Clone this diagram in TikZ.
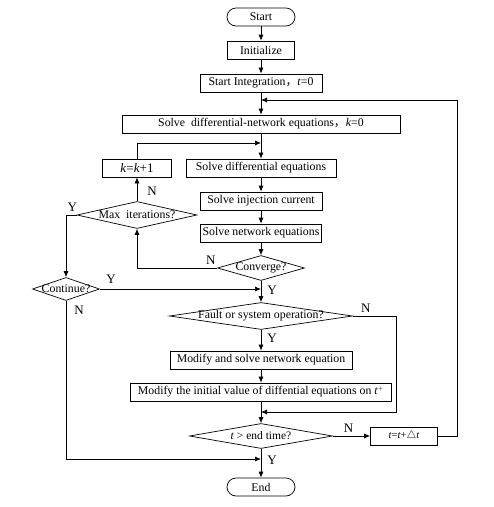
\documentclass[tikz,border=0pt]{standalone}
\usepackage{fontspec}
\setmainfont{Liberation Serif}
\newfontfamily\cjk{Noto Sans CJK SC}
\usetikzlibrary{arrows.meta,shapes.geometric}

\begin{document}
\begin{tikzpicture}[x=1pt,y=-1pt,
  proc/.style={draw, minimum height=18pt, inner sep=2pt},
  term/.style={draw, rounded corners=9pt, minimum width=68pt, minimum height=18pt},
  dec/.style={diamond, draw, inner sep=0pt},
  flow/.style={-{Latex[length=6pt,width=5pt]}},
  every node/.style={font=\fontsize{11.8}{13}\selectfont},
  yn/.style={font=\fontsize{13}{14}\selectfont, inner sep=1pt},
  line width=0.7pt
]
\useasboundingbox (0,0) rectangle (494,507);

% main column
\node[term] (start) at (261,17) {Start};
\node[proc, minimum width=67pt] (init) at (261,50) {Initialize};
\node[proc, minimum width=122pt] (sint) at (261,83) {Start Integration{\cjk ，}\textit{t}=0};
\node[proc, minimum width=278pt] (snet) at (261,124) {Solve\ \ differential-network equations{\cjk ，}\textit{k}=0};
\node[proc, minimum width=150pt] (sdiff) at (261,168) {Solve differential equations};
\node[proc, minimum width=69pt, font=\fontsize{13}{14}\selectfont] (kinc) at (137,168) {\textit{k}=\textit{k}+1};
\node[proc, minimum width=122pt] (sinj) at (261,201) {Solve injection current};
\node[proc, minimum width=121pt] (snw) at (261,233) {Solve network equations};
\node[dec, minimum width=87pt, minimum height=25pt, label=center:Converge?] (conv) at (261,268) {};
\node[dec, minimum width=120pt, minimum height=27pt, label=center:Max\ \ iterations?] (maxit) at (137,215) {};
\node[dec, minimum width=67pt, minimum height=23pt, label=center:Continue?] (cont) at (66,289) {};
\node[dec, minimum width=183pt, minimum height=27pt, label=center:Fault or system operation?] (fault) at (261,316) {};
\node[proc, minimum width=182pt] (mod1) at (261,360) {Modify and solve network equation};
\node[proc, minimum width=261pt] (mod2) at (261,392) {Modify the initial value of diffential equations on \textit{t}$^{\scriptscriptstyle +}$};
\node[dec, minimum width=143pt, minimum height=25pt, label={[font=\fontsize{11.5}{12}\selectfont]center:{\textit{t} > end time?}}] (endt) at (261,436) {};
\node[proc, minimum width=67pt, font=\fontsize{10.5}{12}\selectfont] (tinc) at (404,436) {\textit{t}=\textit{t}+$\triangle$\textit{t}};
\node[term] (stop) at (261,487) {End};

% joins on the main line
\coordinate (jtop) at (261,100);
\coordinate (jk) at (261,143);
\coordinate (jc) at (261,289);
\coordinate (jf) at (261,412);
\coordinate (jb) at (261,459);

\draw[flow] (start) -- (init);
\draw[flow] (init) -- (sint);
\draw[flow] (sint) -- (snet);
\draw[flow] (snet) -- (sdiff);
\draw[flow] (kinc.north) |- (jk);
\draw[flow] (sdiff) -- (sinj);
\draw[flow] (sinj) -- (snw);
\draw[flow] (snw) -- (conv);
\draw[flow] (conv.west) -| node[yn, pos=0.04, above=2pt] (nconv) {N} (maxit.south);
\draw[flow] (maxit.north) -- node[yn, pos=0.4, right=9pt] (nmax) {N} (kinc.south);
\draw[flow] (maxit.west) -| node[yn, pos=0.2, above=2pt] (ymax) {Y} (cont.north);
\draw[flow] (cont.east) -- node[yn, pos=0.07, above=4pt] (ycont) {Y} (jc);
\draw[flow] (conv.south) -- node[yn, pos=0.45, right=5pt] (yconv) {Y} (fault.north);
\draw[flow] (fault.south) -- node[yn, pos=0.4, right=5pt] (yfault) {Y} (mod1.north);
\draw[flow] (mod1) -- (mod2);
\draw[flow] (mod2) -- (endt.north);
\draw[flow] (fault.east) -- node[yn, pos=0.3, above=2pt] (nfault) {N} ++(43,0) |- (jf);
\draw[flow] (endt.east) -- node[yn, pos=0.42, above=2pt] (nend) {N} (tinc.west);
\draw[flow] (tinc.east) -- ++(19,0) |- (jtop);
\draw[flow] (cont.south) |- node[yn, pos=0.03, right=7pt] (ncont) {N} (jb);
\draw[flow] (endt.south) -- node[yn, pos=0.4, right=5pt] (yend) {Y} (stop.north);

\end{tikzpicture}
\end{document}
